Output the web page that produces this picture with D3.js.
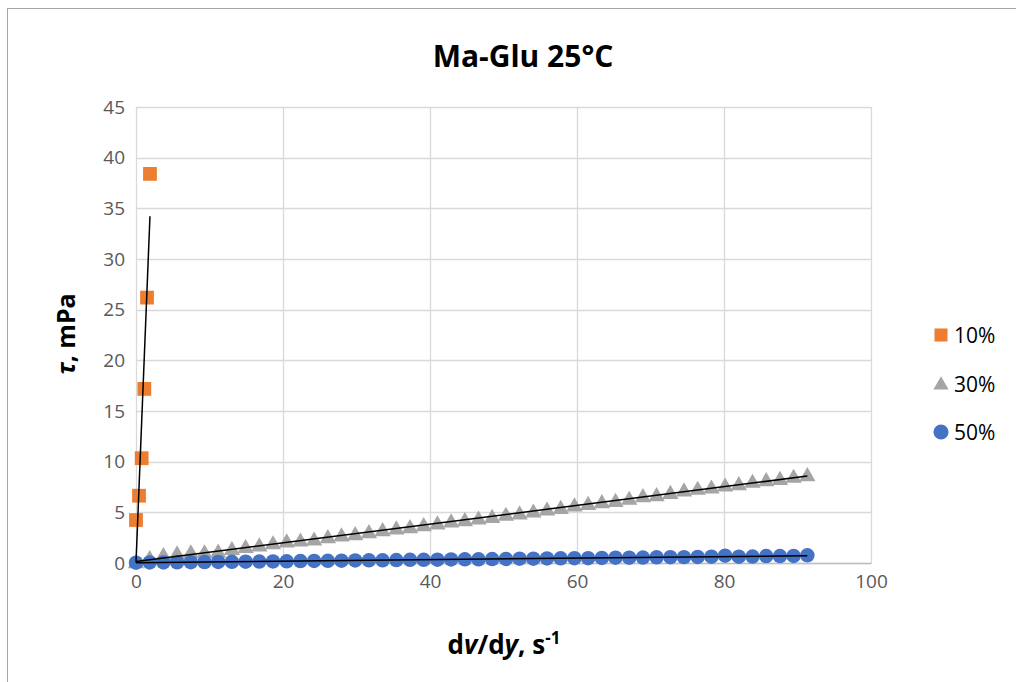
<!DOCTYPE html>
<html><head><meta charset="utf-8">
<script src="https://cdn.jsdelivr.net/npm/d3@7"></script>
<style>body{margin:0;background:#fff}svg{display:block}</style>
</head><body><svg id="c" width="1016" height="682"></svg>
<script>
const seriesNames = ["10%", "30%", "50%"];
const xTicks = [0, 20, 40, 60, 80, 100];
const yTicks = [0, 5, 10, 15, 20, 25, 30, 35, 40, 45];
const x10 = [0, 0.41, 0.77, 1.13, 1.5, 1.9];
const y10 = [4.24, 6.64, 10.34, 17.18, 26.19, 38.4];
const xRate = [0, 1.86, 3.73, 5.59, 7.46, 9.32, 11.18, 13.05, 14.91, 16.78, 18.64, 20.50, 22.37, 24.23, 26.10, 27.96, 29.82, 31.69, 33.55, 35.42, 37.28, 39.14, 41.01, 42.87, 44.74, 46.60, 48.46, 50.33, 52.19, 54.06, 55.92, 57.78, 59.65, 61.51, 63.38, 65.24, 67.10, 68.97, 70.83, 72.70, 74.56, 76.42, 78.29, 80.15, 82.02, 83.88, 85.74, 87.61, 89.47, 91.34];
const y30 = [0.05, 0.46, 0.76, 0.92, 1.02, 1.02, 1.09, 1.35, 1.55, 1.71, 1.91, 2.10, 2.18, 2.29, 2.52, 2.69, 2.81, 3.01, 3.21, 3.38, 3.50, 3.70, 3.87, 4.07, 4.20, 4.36, 4.52, 4.72, 4.86, 5.05, 5.25, 5.41, 5.65, 5.80, 5.97, 6.10, 6.30, 6.56, 6.66, 6.89, 7.13, 7.29, 7.42, 7.62, 7.75, 7.98, 8.14, 8.27, 8.47, 8.64];
const y50 = [0.03, 0.05, 0.06, 0.07, 0.08, 0.09, 0.10, 0.12, 0.13, 0.14, 0.16, 0.17, 0.19, 0.20, 0.22, 0.23, 0.25, 0.26, 0.27, 0.29, 0.31, 0.32, 0.33, 0.35, 0.36, 0.37, 0.39, 0.40, 0.42, 0.43, 0.45, 0.46, 0.47, 0.48, 0.50, 0.52, 0.53, 0.54, 0.56, 0.57, 0.58, 0.60, 0.62, 0.72, 0.62, 0.64, 0.69, 0.68, 0.70, 0.76];
const colors = ["#ED7D31", "#A5A5A5", "#4472C4"];

const svg = d3.select("#c");
const m = {l: 136, r: 871, t: 107, b: 563};
const x = d3.scaleLinear().domain([0, 100]).range([m.l, m.r]);
const y = d3.scaleLinear().domain([0, 45]).range([m.b, m.t]);

svg.append("rect").attr("x", 7.5).attr("y", 8.5).attr("width", 1100).attr("height", 700)
  .attr("fill", "#fff").attr("stroke", "#a6a6a6").attr("stroke-width", 1);

// gridlines
svg.append("g").selectAll("line").data(yTicks).join("line")
  .attr("x1", m.l).attr("x2", m.r).attr("y1", d => Math.round(y(d)) + 0.5).attr("y2", d => Math.round(y(d)) + 0.5)
  .attr("stroke", "#d9d9d9").attr("stroke-width", 1.3);
svg.append("g").selectAll("line").data(xTicks).join("line")
  .attr("y1", m.t).attr("y2", m.b).attr("x1", d => Math.round(x(d)) + 0.5).attr("x2", d => Math.round(x(d)) + 0.5)
  .attr("stroke", "#d9d9d9").attr("stroke-width", 1.3);

// axes
const xAxis = d3.axisBottom(x).tickValues(xTicks).tickSize(0).tickPadding(12);
const gx = svg.append("g").attr("transform", `translate(0,${m.b})`).call(xAxis);
gx.select(".domain").attr("stroke", "#bfbfbf").attr("stroke-width", 1.3);
gx.selectAll("text").attr("font-family", "Open Sans").attr("font-size", 19).attr("fill", "#595959");
const yAxis = d3.axisLeft(y).tickValues(yTicks).tickSize(0).tickPadding(11);
const gy = svg.append("g").attr("transform", `translate(${m.l},0)`).call(yAxis);
gy.select(".domain").remove();
gy.selectAll("text").attr("font-family", "Open Sans").attr("font-size", 19).attr("fill", "#595959");

const pts10 = x10.map((v, i) => [v, y10[i]]);
const pts30 = xRate.map((v, i) => [v, y30[i]]);
const pts50 = xRate.map((v, i) => [v, y50[i]]);

const sq = d3.symbol().type(d3.symbolSquare).size(190);
const tri = d3.symbol().type(d3.symbolTriangle).size(115);
const cir = d3.symbol().type(d3.symbolCircle).size(165);

svg.append("g").selectAll("path").data(pts10).join("path")
  .attr("d", sq).attr("transform", d => `translate(${x(d[0])},${y(d[1])})`).attr("fill", colors[0]);
svg.append("g").selectAll("path").data(pts30).join("path")
  .attr("d", tri).attr("transform", d => `translate(${x(d[0])},${y(d[1]) + 1})`).attr("fill", colors[1]);
svg.append("g").selectAll("path").data(pts50).join("path")
  .attr("d", cir).attr("transform", d => `translate(${x(d[0])},${y(d[1])})`).attr("fill", colors[2]);

// linear trendlines
function fit(pts) {
  const mx = d3.mean(pts, d => d[0]), my = d3.mean(pts, d => d[1]);
  const sxy = d3.sum(pts, d => (d[0] - mx) * (d[1] - my));
  const sxx = d3.sum(pts, d => (d[0] - mx) ** 2);
  const s = sxy / sxx, b = my - s * mx;
  const [a0, a1] = d3.extent(pts, d => d[0]);
  return [[a0, s * a0 + b], [a1, s * a1 + b]];
}
[pts10, pts30, pts50].forEach(p => {
  svg.append("path").datum(fit(p)).attr("d", d3.line().x(d => x(d[0])).y(d => y(d[1])))
    .attr("stroke", "#000").attr("stroke-width", 1.5).attr("fill", "none");
});

// title
svg.append("text").attr("x", 523).attr("y", 67).attr("text-anchor", "middle")
  .attr("font-family", "Open Sans").attr("font-weight", "bold").attr("font-size", 30).attr("fill", "#000")
  .text("Ma-Glu 25°C");

// y label
const yl = svg.append("text").attr("transform", "translate(75,334) rotate(-90)").attr("text-anchor", "middle")
  .attr("font-family", "Open Sans").attr("font-weight", "bold").attr("font-size", 25).attr("fill", "#000");
yl.append("tspan").attr("font-style", "italic").text("τ");
yl.append("tspan").text(", mPa");

// x label
const xl = svg.append("text").attr("x", 504).attr("y", 654).attr("text-anchor", "middle")
  .attr("font-family", "Open Sans").attr("font-weight", "bold").attr("font-size", 26).attr("fill", "#000");
xl.append("tspan").text("d");
xl.append("tspan").attr("font-style", "italic").text("v");
xl.append("tspan").text("/d");
xl.append("tspan").attr("font-style", "italic").text("y");
xl.append("tspan").text(", s");
xl.append("tspan").attr("dy", -10).attr("font-size", 17).text("-1");

// legend
const ly = [335, 384, 432];
const syms = [d3.symbol().type(d3.symbolSquare).size(170), d3.symbol().type(d3.symbolTriangle).size(100), d3.symbol().type(d3.symbolCircle).size(180)];
seriesNames.forEach((n, i) => {
  svg.append("path").attr("d", syms[i]).attr("transform", `translate(941,${ly[i] + (i === 1 ? 1 : 0)})`).attr("fill", colors[i]);
  svg.append("text").attr("x", 954).attr("y", ly[i] + 8).attr("font-family", "Open Sans").attr("font-size", 21)
    .attr("fill", "#000").text(n);
});
</script></body></html>
